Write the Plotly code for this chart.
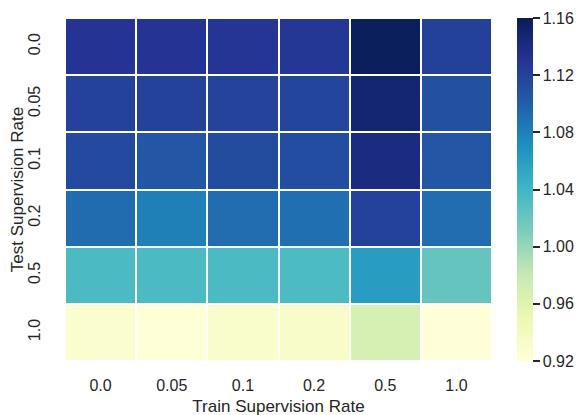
import plotly.graph_objects as go

train_rates = ["0.0", "0.05", "0.1", "0.2", "0.5", "1.0"]
test_rates = ["0.0", "0.05", "0.1", "0.2", "0.5", "1.0"]

row_00 = [1.130, 1.130, 1.129, 1.128, 1.158, 1.121]
row_005 = [1.120, 1.120, 1.119, 1.118, 1.148, 1.110]
row_01 = [1.114, 1.105, 1.113, 1.112, 1.140, 1.105]
row_02 = [1.092, 1.080, 1.091, 1.090, 1.120, 1.091]
row_05 = [1.035, 1.035, 1.035, 1.034, 1.060, 1.022]
row_10 = [0.929, 0.922, 0.930, 0.932, 0.968, 0.921]

z = [row_00, row_005, row_01, row_02, row_05, row_10]

ylgnbu = ["#ffffd9", "#edf8b1", "#c7e9b4", "#7fcdbb", "#41b6c4",
          "#1d91c0", "#225ea8", "#253494", "#081d58"]
colorscale = [[i / 8, c] for i, c in enumerate(ylgnbu)]

cb_ticks = [0.92, 0.96, 1.00, 1.04, 1.08, 1.12, 1.16]

txt = "#262626"
font = "Liberation Sans, Arial, sans-serif"

W, H = 585, 415
ml, mr, mt, mb = 57, 4, 10, 62
pw = W - ml - mr
plot_right = 484
cb_left = 509

fig = go.Figure(go.Heatmap(
    z=z, x=train_rates, y=test_rates,
    colorscale=colorscale, zmin=0.92, zmax=1.16,
    xgap=2, ygap=2,
    colorbar=dict(
        thickness=16, len=1.0, lenmode="fraction", y=0.5, yanchor="middle",
        x=(cb_left - ml) / pw, xpad=0, xanchor="left", ypad=0,
        outlinewidth=0,
        tickvals=cb_ticks, tickformat=".2f",
        ticks="outside", ticklen=7, tickwidth=1.5, tickcolor=txt,
        tickfont=dict(size=16, color=txt, family=font),
    ),
))

fig.update_layout(
    width=W, height=H,
    margin=dict(l=ml, r=mr, t=mt, b=mb, autoexpand=False),
    paper_bgcolor="white", plot_bgcolor="white",
    font=dict(family=font, size=16, color=txt),
    xaxis=dict(
        domain=[0, (plot_right - ml) / pw],
        title=dict(text="Train Supervision Rate", font=dict(size=17, color=txt), standoff=6),
        type="category", showgrid=False, zeroline=False,
        ticks="outside", ticklen=10, tickcolor="rgba(0,0,0,0)",
        tickfont=dict(size=16, color=txt),
    ),
    yaxis=dict(
        title=dict(text="Test Supervision Rate", font=dict(size=17, color=txt), standoff=2),
        type="category", autorange="reversed", showgrid=False, zeroline=False,
        ticks="outside", ticklen=18, tickcolor="rgba(0,0,0,0)",
        tickangle=-90, tickfont=dict(size=16, color=txt),
    ),
)

fig.write_html("out.html")
